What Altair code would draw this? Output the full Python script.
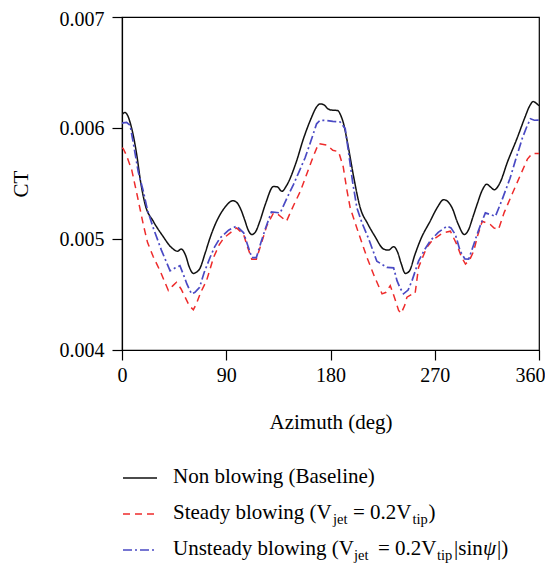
import altair as alt
import pandas as pd

# ---------------- data ----------------
base_az = [0, 2.5, 5, 7, 10, 12.7, 16, 20, 27, 35, 43, 48, 51, 55, 58, 61.6, 64, 67, 72, 76,
           80, 84.7, 90, 95.6, 99, 102, 106, 109, 112, 115, 119, 124, 130.8, 134, 138, 142,
           150, 156.7, 163, 168, 171, 174, 178.3, 182, 186, 189, 191, 195, 200, 205.7, 212,
           218, 225.8, 230, 234.5, 238, 241, 244.6, 248, 253, 258, 266, 272, 277.7, 281, 285,
           290, 295.6, 299, 303, 306.5, 311, 315, 318, 321.5, 326, 333, 341, 348, 352, 355,
           358, 360]
base_ct = [0.00612, 0.00614, 0.00611, 0.00605, 0.00592, 0.00576, 0.00552, 0.00531, 0.00516,
           0.00503, 0.00492, 0.00489, 0.00491, 0.00485, 0.00475, 0.00469, 0.00470, 0.00473,
           0.00488, 0.00501, 0.00512, 0.00522, 0.00530, 0.005345, 0.00533, 0.00528, 0.00517,
           0.00508, 0.00504, 0.00506, 0.00516, 0.00532, 0.005473, 0.00547, 0.00543, 0.00548,
           0.00568, 0.005905, 0.00608, 0.00619, 0.006217, 0.00621, 0.00617, 0.00616, 0.006158,
           0.00611, 0.00605, 0.00585, 0.00556, 0.00528, 0.00514, 0.00503, 0.00491, 0.00490,
           0.00493, 0.00488, 0.00478, 0.00469, 0.00471, 0.004863, 0.00500, 0.00516, 0.00528,
           0.005354, 0.00534, 0.00528, 0.00514, 0.00504, 0.00508, 0.00520, 0.00531, 0.00544,
           0.005494, 0.00547, 0.005444, 0.00550, 0.00570, 0.005905, 0.00610, 0.00620,
           0.006238, 0.00622, 0.00620]

steady_az = [0, 1, 4, 8.4, 13, 18.4, 22, 27, 33, 40, 44, 47, 51, 54.5, 58, 61.6, 64, 68, 73,
             79, 84, 88, 94, 99, 105, 108, 112, 116, 120, 125, 130.8, 135, 142, 148, 154, 160,
             165, 169.7, 177, 182, 187, 191, 194, 197, 204, 211.5, 218, 224.5, 228, 231.6,
             235, 238.8, 241, 244, 246, 250, 253, 256, 263, 268, 274.8, 279, 283.5, 289, 293,
             296.5, 300, 303.6, 307, 311, 318, 321, 325, 330, 337, 344, 350, 354, 360]
steady_ct = [0.00582, 0.005815, 0.00575, 0.005622, 0.00540, 0.00513, 0.00497, 0.00484,
             0.00471, 0.004536, 0.00458, 0.00461, 0.00455, 0.004476, 0.00440, 0.004363,
             0.00441, 0.00452, 0.004625, 0.004833, 0.00495, 0.00501, 0.00506, 0.00510,
             0.00504, 0.00494, 0.004818, 0.004818, 0.00495, 0.00512, 0.005235, 0.00522,
             0.00516, 0.00530, 0.00543, 0.00560, 0.00574, 0.00586, 0.005845, 0.00580,
             0.005786, 0.00565, 0.00545, 0.00528, 0.00506, 0.004833, 0.00466, 0.004506,
             0.00452, 0.00458, 0.00448, 0.004357, 0.00433, 0.00440, 0.004476, 0.00450,
             0.004506, 0.004744, 0.004922, 0.00499, 0.00504, 0.00506, 0.00507, 0.004952,
             0.00484, 0.004774, 0.00481, 0.00489, 0.00503, 0.00516, 0.00513, 0.00510,
             0.005086, 0.00524, 0.00541, 0.005577, 0.00572, 0.00577, 0.00577]

unsteady_az = [0, 1, 4, 7, 10, 14, 18.4, 22, 27, 34, 41.5, 46, 50, 53, 56, 60, 63, 67, 71,
               76, 80, 84.7, 92, 99, 105, 108, 112, 116, 120, 124, 129, 136.6, 142, 148,
               153, 158, 163, 168, 171, 175.5, 182, 188.4, 192.7, 196, 199, 202.8, 207, 213,
               220, 228.8, 234.5, 237.4, 240, 243, 247, 250.4, 256, 261, 266, 273, 280.6,
               284, 287.8, 292, 296, 299.3, 303, 306.5, 310, 313.7, 318, 322.4, 328, 335,
               340, 345.5, 349, 352.6, 356, 360]
unsteady_ct = [0.00604, 0.006047, 0.00605, 0.006024, 0.00585, 0.005607, 0.00543, 0.00526,
               0.00510, 0.00490, 0.004714, 0.00474, 0.00476, 0.00468, 0.004595, 0.004506,
               0.00452, 0.004565, 0.00470, 0.004833, 0.00493, 0.00501, 0.00508, 0.005116,
               0.005056, 0.00496, 0.004833, 0.004833, 0.00497, 0.00510, 0.005244, 0.005235,
               0.00536, 0.00549, 0.00561, 0.00573, 0.00588, 0.006038, 0.00607, 0.006069,
               0.00606, 0.006054, 0.005994, 0.00575, 0.00552, 0.00528, 0.00515, 0.00500,
               0.00480, 0.004744, 0.00474, 0.004625, 0.00456, 0.004506, 0.00454, 0.004625,
               0.00480, 0.00490, 0.004982, 0.00506, 0.005116, 0.00510, 0.00504, 0.00489,
               0.00482, 0.004818, 0.00493, 0.00504, 0.00514, 0.005235, 0.00522, 0.005205,
               0.00535, 0.005547, 0.00572, 0.005905, 0.00600, 0.006083, 0.00607, 0.006071]

x_ticks = [0, 90, 180, 270, 360]
y_ticks = [0.004, 0.005, 0.006, 0.007]

# ---------------- style ----------------
FONT = "Liberation Serif"
BLACK = "#111111"
RED = "#ee2b2b"
BLUE = "#4a4ac4"
TOP = 9
W, H = 417, 350 - 8 - TOP

xs = alt.Scale(domain=[0, 360], nice=False)
ys = alt.Scale(domain=[0.004, 0.007], nice=False)

x_enc = alt.X("az:Q", scale=xs, title="Azimuth (deg)",
              axis=alt.Axis(values=x_ticks, format="d", grid=False, labelFlush=False,
                            labelAlign=alt.expr("datum.value == 360 ? 'right' : 'center'"),
                            labelOffset=alt.expr("datum.value == 360 ? 6 : 0")))
y_enc = alt.Y("ct:Q", scale=ys, title="CT",
              axis=alt.Axis(values=y_ticks, format=".3f", grid=False, labelFlush=False,
                            labelOffset=alt.expr("datum.value > 0.0069 ? 2 : 0")))


def series(az, ct, color, dash, width, interp):
    df = pd.DataFrame({"az": az, "ct": ct})
    m = alt.Chart(df).mark_line(color=color, strokeWidth=width, interpolate=interp,
                                strokeDash=dash, clip=True)
    return m.encode(x=x_enc, y=y_enc)


l_base = series(base_az, base_ct, BLACK, [1, 0], 1.5, "monotone")
l_steady = series(steady_az, steady_ct, RED, [7, 5], 1.5, "linear")
l_unsteady = series(unsteady_az, unsteady_ct, BLUE, [9, 3, 2, 3], 1.7, "linear")

one = pd.DataFrame({"k": [0]})
OY = 14 - (8 + TOP)  # offset of legend rows relative to plot top


def sym(y, color, dash, width):
    return alt.Chart(one).mark_rule(color=color, strokeDash=dash, strokeWidth=width).encode(
        x=alt.value(1), x2=alt.value(35), y=alt.value(y + OY))


LF = 21
SUB = 14.5


def txt(s, x, y, size=LF, style="normal"):
    return alt.Chart(one).mark_text(text=s, align="left", baseline="alphabetic", font=FONT,
                                    fontSize=size, fontStyle=style, color="black").encode(
        x=alt.value(x), y=alt.value(y + OY))


legend = [
    sym(464, BLACK, [1, 0], 1.5),
    txt("Non blowing (Baseline)", 51, 469),
    sym(500, RED, [7, 5], 1.5),
    txt("Steady blowing (V", 51, 505),
    txt("jet", 211, 510, SUB),
    txt("= 0.2V", 231, 505),
    txt("tip", 290.5, 510, SUB),
    txt(")", 306.5, 505),
    sym(536, BLUE, [9, 3, 2, 3], 1.7),
    txt("Unsteady blowing (V", 51, 541),
    txt("jet", 232, 546, SUB),
    txt("= 0.2V", 256, 541),
    txt("tip", 315, 546, SUB),
    txt("|sin", 332, 541),
    txt("ψ", 361, 541, LF, "italic"),
    txt("|)", 375, 541),
]

chart = alt.layer(l_base, l_steady, l_unsteady, *legend).properties(
    width=W, height=H,
    autosize=alt.AutoSizeParams(type="none"),
    padding={"left": 114, "top": TOP, "right": 6, "bottom": 213},
).configure_view(stroke="black", strokeWidth=1.2).configure_axis(
    domainColor="black", domainWidth=1.2, tickColor="black", tickWidth=1.2, tickSize=10,
    labelFont=FONT, labelFontSize=20, labelColor="black",
    titleFont=FONT, titleFontSize=21, titleFontWeight="normal", titleColor="black",
).configure_axisY(labelPadding=8, titlePadding=28).configure_axisX(
    labelPadding=5, titlePadding=26)

chart.save("out.html", embed_options={"renderer": "svg", "actions": False})
